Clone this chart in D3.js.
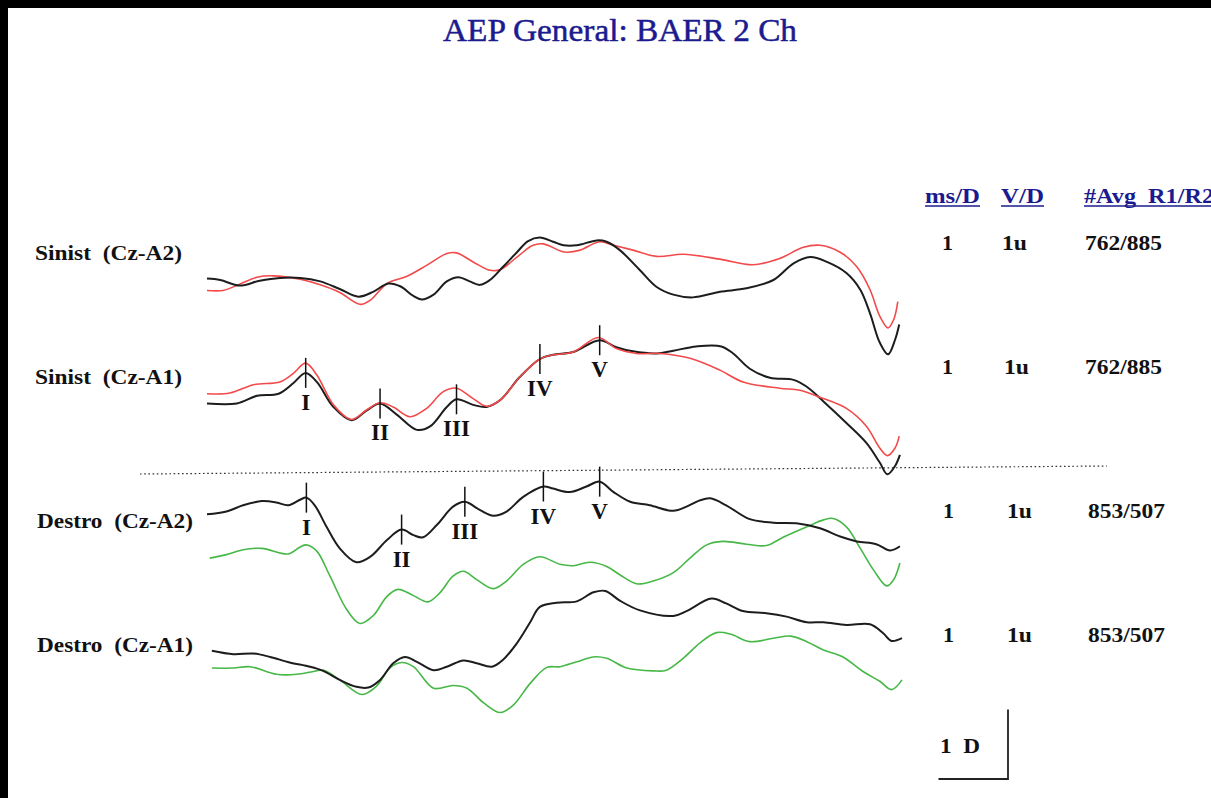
<!DOCTYPE html>
<html>
<head>
<meta charset="utf-8">
<script src="https://cdn.jsdelivr.net/npm/d3@7"></script>
<style>
  html, body { margin: 0; padding: 0; background: #fff; overflow: hidden; }
  svg { display: block; }
</style>
</head>
<body>
<svg id="chart" width="1211" height="798"></svg>
<script>
// Brainstem auditory evoked potentials, two channels per ear.
// Time in ms, amplitude in µV (1 ms and 1 µV per division).

const channelNames = ["Sinist  (Cz-A2)", "Sinist  (Cz-A1)", "Destro  (Cz-A2)", "Destro  (Cz-A1)"];
const msPerDiv = ["1", "1", "1", "1"];
const voltPerDiv = ["1u", "1u", "1u", "1u"];
const avgCounts = ["762/885", "762/885", "853/507", "853/507"];
const headers = ["ms/D", "V/D", "#Avg  R1/R2"];
const titleText = "AEP General: BAER 2 Ch";
const scaleLabel = "1  D";

// [ms, µV]
const sinA2Run1 = [[0.00,0.02],[0.19,0.00],[0.47,-0.08],[0.76,-0.01],[1.05,0.03],[1.34,0.03],[1.63,-0.02],[1.91,-0.13],[2.18,-0.24],[2.39,-0.17],[2.61,-0.05],[2.78,-0.09],[2.97,-0.23],[3.09,-0.28],[3.26,-0.21],[3.45,-0.02],[3.62,0.04],[3.78,-0.02],[3.93,-0.07],[4.07,0.00],[4.26,0.19],[4.46,0.40],[4.62,0.56],[4.79,0.61],[4.98,0.55],[5.13,0.50],[5.32,0.50],[5.61,0.57],[5.75,0.55],[5.94,0.43],[6.23,0.14],[6.47,-0.10],[6.71,-0.21],[6.99,-0.25],[7.38,-0.17],[7.76,-0.12],[8.15,0.00],[8.44,0.24],[8.68,0.33],[8.92,0.26],[9.20,0.10],[9.40,-0.14],[9.54,-0.48],[9.68,-0.90],[9.80,-1.07],[9.90,-0.86],[9.96,-0.64]];
const sinA2Run2 = [[0.00,-0.15],[0.23,-0.15],[0.47,-0.06],[0.72,0.04],[0.95,0.06],[1.34,0.01],[1.63,-0.07],[1.91,-0.18],[2.20,-0.35],[2.35,-0.29],[2.59,-0.05],[2.87,0.05],[3.16,0.21],[3.45,0.38],[3.59,0.39],[3.83,0.26],[4.07,0.14],[4.22,0.15],[4.46,0.33],[4.69,0.50],[4.84,0.52],[5.08,0.42],[5.18,0.40],[5.37,0.43],[5.65,0.55],[5.85,0.50],[6.13,0.43],[6.47,0.34],[6.85,0.37],[7.38,0.30],[7.86,0.22],[8.24,0.31],[8.58,0.47],[8.82,0.50],[9.11,0.40],[9.35,0.19],[9.54,-0.14],[9.68,-0.52],[9.80,-0.69],[9.88,-0.57],[9.94,-0.31]];

const sinA1Run1 = [[0.00,-0.05],[0.43,-0.05],[0.72,0.06],[1.03,0.09],[1.24,0.24],[1.42,0.39],[1.58,0.26],[1.82,-0.10],[2.08,-0.29],[2.30,-0.15],[2.49,-0.05],[2.73,-0.21],[3.02,-0.43],[3.21,-0.38],[3.45,-0.10],[3.59,0.01],[3.83,-0.07],[4.02,-0.10],[4.22,0.00],[4.50,0.33],[4.79,0.59],[4.98,0.65],[5.27,0.69],[5.65,0.86],[5.89,0.76],[6.13,0.70],[6.47,0.67],[6.71,0.71],[7.04,0.77],[7.40,0.77],[7.57,0.67],[7.81,0.45],[8.10,0.32],[8.44,0.29],[8.63,0.19],[8.87,-0.02],[9.20,-0.33],[9.49,-0.62],[9.68,-0.90],[9.79,-1.07],[9.90,-0.95],[9.97,-0.79]];
const sinA1Run2 = [[0.00,0.09],[0.33,0.10],[0.67,0.22],[1.05,0.26],[1.24,0.38],[1.42,0.53],[1.58,0.36],[1.82,-0.07],[2.08,-0.28],[2.30,-0.14],[2.49,-0.04],[2.68,-0.10],[2.92,-0.24],[3.16,-0.12],[3.40,0.12],[3.59,0.17],[3.83,0.02],[4.02,-0.09],[4.22,0.00],[4.50,0.33],[4.79,0.59],[4.98,0.65],[5.27,0.69],[5.63,0.90],[5.89,0.74],[6.18,0.67],[6.52,0.67],[6.95,0.60],[7.38,0.43],[7.71,0.26],[8.24,0.17],[8.53,0.14],[8.82,0.04],[9.20,-0.12],[9.49,-0.38],[9.68,-0.69],[9.79,-0.80],[9.90,-0.69],[9.96,-0.52]];

const desA2Run1 = [[0.00,0.01],[0.28,0.05],[0.52,0.14],[0.79,0.20],[1.00,0.18],[1.17,0.14],[1.34,0.22],[1.43,0.25],[1.55,0.14],[1.72,-0.17],[1.91,-0.48],[2.15,-0.68],[2.35,-0.60],[2.59,-0.36],[2.80,-0.21],[2.97,-0.29],[3.11,-0.32],[3.31,-0.14],[3.54,0.12],[3.71,0.19],[3.93,0.07],[4.12,-0.01],[4.31,0.05],[4.55,0.26],[4.84,0.41],[4.98,0.38],[5.22,0.33],[5.46,0.41],[5.65,0.48],[5.85,0.33],[6.09,0.19],[6.37,0.14],[6.71,0.06],[6.90,0.12],[7.09,0.21],[7.24,0.24],[7.47,0.14],[7.81,-0.06],[8.15,-0.11],[8.48,-0.12],[8.82,-0.19],[9.11,-0.31],[9.35,-0.38],[9.63,-0.42],[9.83,-0.51],[9.97,-0.45]];
const desA2Run2 = [[0.04,-0.62],[0.28,-0.57],[0.52,-0.50],[0.79,-0.48],[1.17,-0.56],[1.34,-0.46],[1.43,-0.43],[1.58,-0.52],[1.77,-0.88],[2.01,-1.36],[2.20,-1.56],[2.39,-1.45],[2.59,-1.17],[2.75,-1.07],[2.97,-1.16],[3.18,-1.25],[3.35,-1.12],[3.54,-0.88],[3.69,-0.81],[3.88,-0.93],[4.12,-1.06],[4.31,-0.95],[4.55,-0.71],[4.79,-0.60],[5.08,-0.71],[5.27,-0.73],[5.51,-0.68],[5.75,-0.74],[5.94,-0.86],[6.18,-0.99],[6.42,-0.95],[6.71,-0.83],[6.95,-0.62],[7.19,-0.43],[7.42,-0.38],[7.76,-0.42],[8.05,-0.44],[8.29,-0.32],[8.63,-0.17],[8.87,-0.07],[9.01,-0.05],[9.20,-0.17],[9.40,-0.48],[9.59,-0.79],[9.78,-1.02],[9.88,-0.93],[9.97,-0.69]];

const desA1Run1 = [[0.07,-0.01],[0.38,-0.06],[0.67,-0.05],[0.91,-0.10],[1.19,-0.18],[1.48,-0.24],[1.67,-0.30],[1.91,-0.43],[2.15,-0.53],[2.32,-0.54],[2.49,-0.43],[2.68,-0.19],[2.85,-0.10],[3.02,-0.17],[3.26,-0.29],[3.45,-0.24],[3.69,-0.15],[3.88,-0.19],[4.10,-0.24],[4.26,-0.14],[4.46,0.10],[4.65,0.40],[4.79,0.62],[5.03,0.68],[5.32,0.70],[5.56,0.83],[5.73,0.85],[5.94,0.71],[6.23,0.57],[6.71,0.49],[6.90,0.56],[7.26,0.74],[7.47,0.67],[7.71,0.56],[8.05,0.53],[8.34,0.48],[8.63,0.40],[8.87,0.40],[9.20,0.36],[9.54,0.37],[9.73,0.24],[9.85,0.13],[10.00,0.17]];
const desA1Run2 = [[0.07,-0.26],[0.38,-0.26],[0.62,-0.24],[1.00,-0.35],[1.29,-0.35],[1.53,-0.31],[1.67,-0.29],[1.91,-0.43],[2.23,-0.64],[2.44,-0.52],[2.63,-0.26],[2.80,-0.18],[2.97,-0.24],[3.26,-0.55],[3.54,-0.51],[3.74,-0.55],[3.98,-0.76],[4.22,-0.90],[4.41,-0.79],[4.65,-0.48],[4.89,-0.25],[5.08,-0.24],[5.32,-0.17],[5.56,-0.10],[5.75,-0.12],[6.04,-0.26],[6.42,-0.30],[6.61,-0.29],[6.85,-0.12],[7.09,0.10],[7.33,0.25],[7.53,0.23],[7.81,0.12],[8.15,0.17],[8.40,0.20],[8.63,0.12],[8.87,0.00],[9.15,-0.10],[9.44,-0.31],[9.68,-0.45],[9.85,-0.57],[10.00,-0.43]];

// Wave markers I–V: [label, ms, µV]
const sinA1Peaks = [["I",1.42,0.39],["II",2.49,-0.05],["III",3.59,0.01],["IV",4.79,0.59],["V",5.65,0.86]];
const desA2Peaks = [["I",1.43,0.25],["II",2.80,-0.21],["III",3.71,0.19],["IV",4.84,0.41],["V",5.65,0.48]];

// ---- layout ----
const W = 1211, H = 798;
const serif = "'Liberation Serif', 'Times New Roman', serif";
const navy = "#1b1b8f";
const colBlack = "#1d1d1d", colRed = "#f24a4a", colGreen = "#47b847";

const svg = d3.select("#chart");
svg.append("rect").attr("width", W).attr("height", H).attr("fill", "#fff");

const x = d3.scaleLinear().domain([0, 10]).range([207, 902]);
const divPx = x(1) - x(0);
const zeroLines = [280, 400, 515, 650];
const yScales = zeroLines.map(z => d3.scaleLinear().domain([-1, 1]).range([z + divPx, z - divPx]));

const channels = [
  { runs: [[sinA2Run2, colRed], [sinA2Run1, colBlack]], peaks: null },
  { runs: [[sinA1Run1, colBlack], [sinA1Run2, colRed]], peaks: sinA1Peaks },
  { runs: [[desA2Run2, colGreen], [desA2Run1, colBlack]], peaks: desA2Peaks },
  { runs: [[desA1Run2, colGreen], [desA1Run1, colBlack]], peaks: null }
];

// title
svg.append("text")
  .attr("x", 443).attr("y", 41)
  .attr("textLength", 354).attr("lengthAdjust", "spacingAndGlyphs")
  .attr("font-family", serif).attr("font-size", 32).attr("fill", navy)
  .attr("stroke", navy).attr("stroke-width", 0.5)
  .text(titleText);

// channel names
const nameX = [35, 35, 37, 37], nameW = [147, 147, 156, 156];
const rowBase = [260, 384, 528, 652];
channelNames.forEach((n, i) => {
  svg.append("text")
    .attr("x", nameX[i]).attr("y", rowBase[i])
    .attr("textLength", nameW[i]).attr("lengthAdjust", "spacingAndGlyphs")
    .attr("font-family", serif).attr("font-size", 22).attr("font-weight", "bold")
    .attr("fill", "#111").style("white-space", "pre")
    .text(n);
});

// separator between ears
svg.append("line")
  .attr("x1", 140).attr("y1", 474).attr("x2", 1107).attr("y2", 466)
  .attr("stroke", "#333").attr("stroke-width", 1.2).attr("stroke-dasharray", "1.6,2.6");

// traces
channels.forEach((ch, i) => {
  const y = yScales[i];
  const line = d3.line().x(d => x(d[0])).y(d => y(d[1])).curve(d3.curveCatmullRom.alpha(0.5));
  ch.runs.forEach(([data, col]) => {
    svg.append("path")
      .attr("d", line(data))
      .attr("fill", "none")
      .attr("stroke", col)
      .attr("stroke-width", col === colBlack ? 2 : 1.6)
      .attr("stroke-linejoin", "round");
  });
  if (ch.peaks) {
    const g = svg.append("g");
    ch.peaks.forEach(([lab, t, v]) => {
      const px = x(t), py = y(v);
      g.append("line").attr("x1", px).attr("x2", px).attr("y1", py - 15).attr("y2", py + 15)
        .attr("stroke", "#111").attr("stroke-width", 1.5);
      g.append("text").attr("x", px).attr("y", py + 37).attr("text-anchor", "middle")
        .attr("font-family", serif).attr("font-size", 23).attr("font-weight", "bold")
        .attr("fill", "#111").text(lab);
    });
  }
});

// settings table
const headX = [925, 1001, 1084], headW = [55, 43, 130];
headers.forEach((h, i) => {
  svg.append("text")
    .attr("x", headX[i]).attr("y", 203)
    .attr("textLength", headW[i]).attr("lengthAdjust", "spacingAndGlyphs")
    .attr("font-family", serif).attr("font-size", 22).attr("font-weight", "bold")
    .attr("fill", navy).style("white-space", "pre")
    .text(h);
  svg.append("line")
    .attr("x1", headX[i]).attr("x2", headX[i] + headW[i])
    .attr("y1", 206).attr("y2", 206)
    .attr("stroke", navy).attr("stroke-width", 1.5);
});

const valBase = [250, 374, 518, 642];
const col1X = [942, 942, 943, 943], col2X = [1002, 1004, 1007, 1007], col3X = [1085, 1085, 1088, 1088];
valBase.forEach((b, i) => {
  const st = s => s.attr("font-family", serif).attr("font-size", 22).attr("font-weight", "bold").attr("fill", "#111");
  st(svg.append("text").attr("x", col1X[i]).attr("y", b)).text(msPerDiv[i]);
  st(svg.append("text").attr("x", col2X[i]).attr("y", b).attr("textLength", 25).attr("lengthAdjust", "spacingAndGlyphs")).text(voltPerDiv[i]);
  st(svg.append("text").attr("x", col3X[i]).attr("y", b).attr("textLength", 77).attr("lengthAdjust", "spacingAndGlyphs")).text(avgCounts[i]);
});

// calibration bar: 1 division in each direction
const barX = 1008, barY = 779;
svg.append("path")
  .attr("d", `M${barX},${barY - divPx}V${barY}H${barX - divPx}`)
  .attr("fill", "none").attr("stroke", "#222").attr("stroke-width", 1.8);
svg.append("text")
  .attr("x", 940).attr("y", 753).attr("textLength", 40).attr("lengthAdjust", "spacingAndGlyphs")
  .attr("font-family", serif).attr("font-size", 22).attr("font-weight", "bold")
  .attr("fill", "#111").style("white-space", "pre").text(scaleLabel);

// dark scan margins
svg.append("rect").attr("x", 0).attr("y", 0).attr("width", W).attr("height", 8).attr("fill", "#000");
svg.append("rect").attr("x", 0).attr("y", 0).attr("width", 8).attr("height", H).attr("fill", "#000");
</script>
</body>
</html>
